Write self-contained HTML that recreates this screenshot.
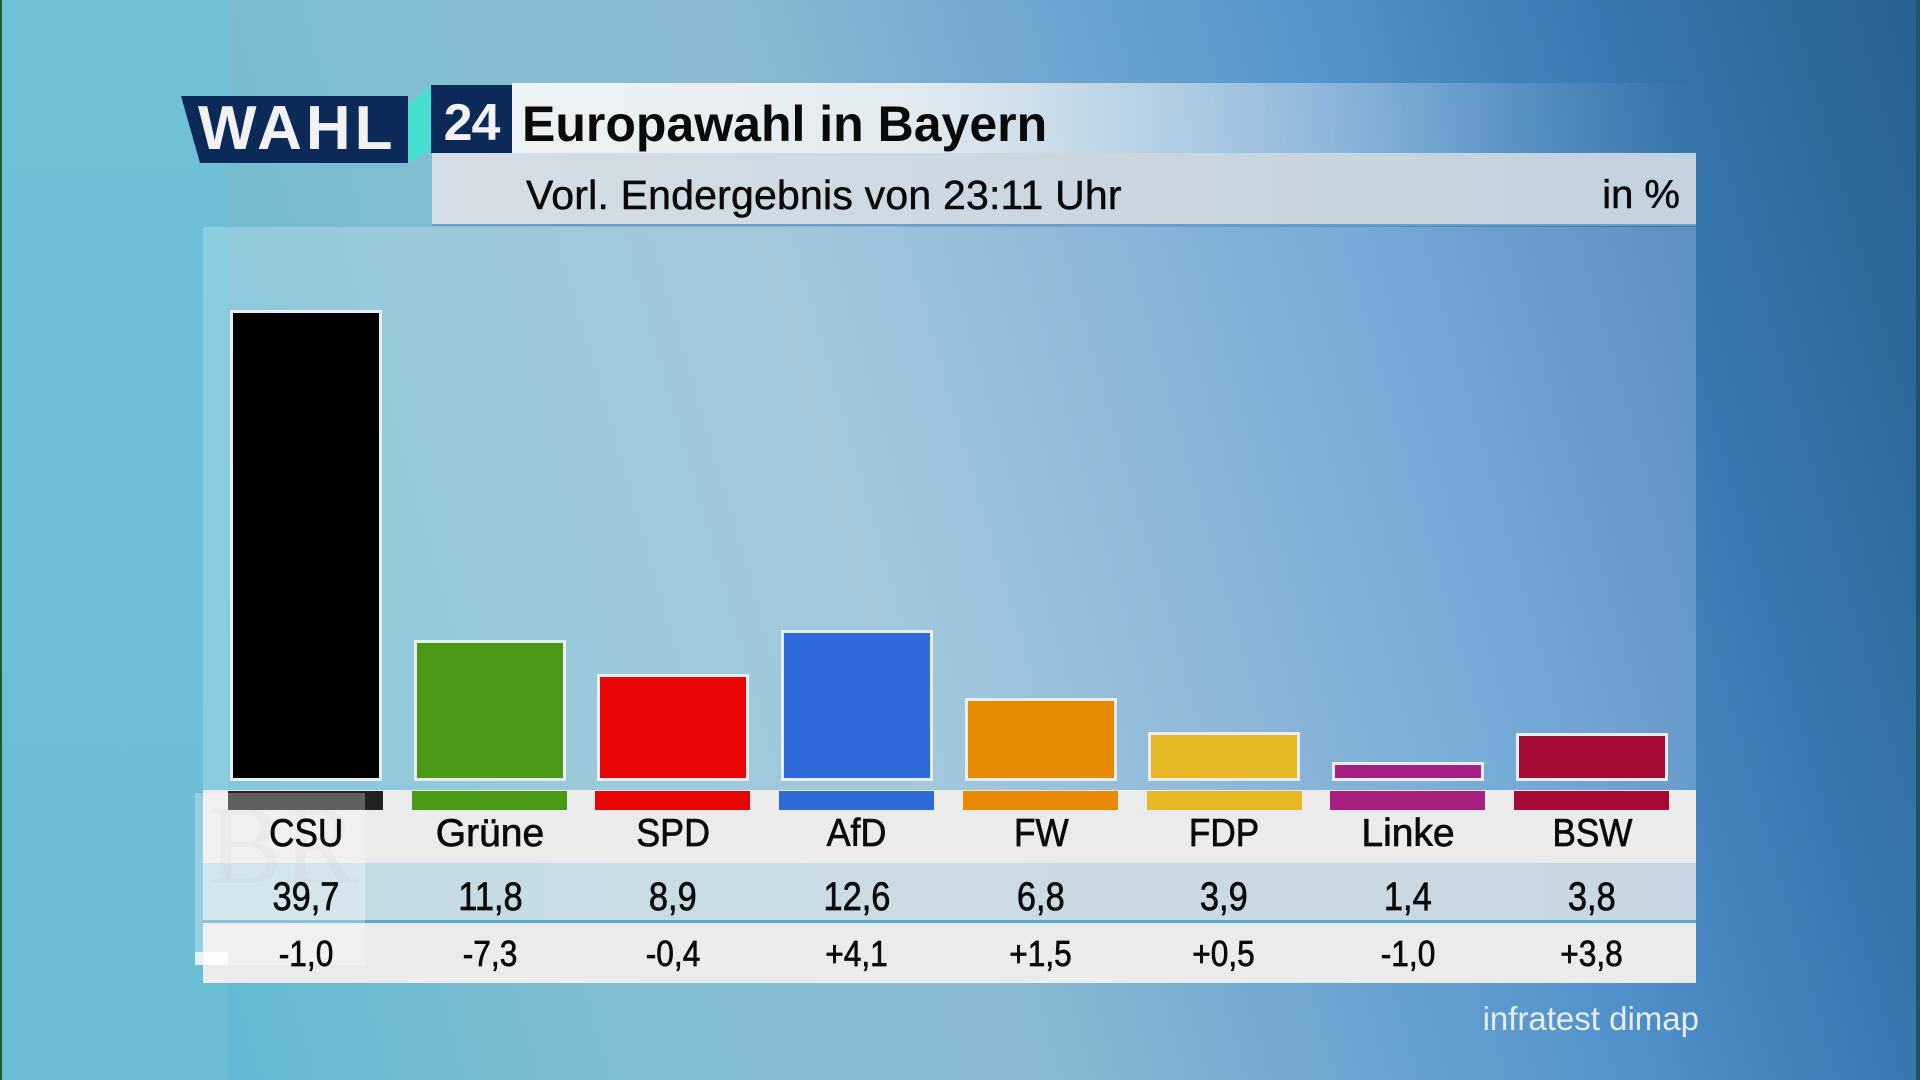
<!DOCTYPE html>
<html>
<head>
<meta charset="utf-8">
<style>
  html,body{margin:0;padding:0;}
  body{width:1920px;height:1080px;position:relative;overflow:hidden;font-family:"Liberation Sans",sans-serif;background:#6fc0d6;}
  .abs{position:absolute;}
  #bgmain{left:228px;top:0;width:1692px;height:1080px;
    background:linear-gradient(74deg,#62b9d2 0%,#80bdd1 20%,#8cbcd3 39%,#72a8d0 54%,#5494cc 69%,#3877b1 84%,#29608e 100%);}
  #leftstrip{left:0;top:0;width:228px;height:1080px;background:linear-gradient(to bottom,#70c0d6,#6cbed5);}
  #edgeL{left:0;top:0;width:2px;height:1080px;background:#1d5b2e;}
  #edgeR{left:1916px;top:0;width:4px;height:1080px;background:#1e5566;}
  #panel{left:203px;top:227px;width:1493px;height:563px;background:rgba(255,255,255,0.2);}
  #titleband{left:512px;top:83px;width:1184px;height:70px;
    background:linear-gradient(to right,rgba(240,242,243,0.98) 0%,rgba(232,238,241,0.95) 33%,rgba(215,228,238,0.55) 62%,rgba(210,225,238,0.15) 85%,rgba(210,225,238,0) 100%);}
  #subband{left:432px;top:153px;width:1264px;height:71px;background:linear-gradient(to right,#d5dee4,#c9d6df 60%,#c2d2de);border-bottom:2px solid #6a9cc8;}
  .t{position:absolute;white-space:nowrap;color:#0a0a0a;}
  .bar{position:absolute;box-sizing:border-box;border:3px solid #e6eef2;width:152px;}
  .strip{position:absolute;top:791px;height:19px;width:155px;}
  .cell{position:absolute;width:184px;text-align:center;white-space:nowrap;color:#0a0a0a;-webkit-text-stroke:0.7px #0a0a0a;}
  .cell span{display:inline-block;}
</style>
</head>
<body>
<div id="bgmain" class="abs"></div>
<div id="leftstrip" class="abs"></div>
<div id="edgeL" class="abs"></div>
<div id="edgeR" class="abs"></div>

<div id="panel" class="abs"></div>

<!-- Header -->
<div id="titleband" class="abs"></div>
<div id="subband" class="abs"></div>

<svg class="abs" style="left:0;top:0" width="1920" height="240">
  <polygon points="181,96 408,96 408,163 200,163" fill="#0c2a57"/>
  <polygon points="408,104 431,86 431,150 408,163" fill="#45e0d2"/>
  <rect x="431" y="85" width="81" height="68" fill="#0c2a57"/>
</svg>
<div class="t" style="left:198px;top:98px;font-size:62px;line-height:62px;font-weight:bold;color:#f2f2f2;letter-spacing:4px;">WAHL</div>
<div class="t" style="left:431px;top:97px;width:81px;text-align:center;font-size:52px;line-height:52px;font-weight:bold;color:#f2f2f2;letter-spacing:-1px;">24</div>
<div class="t" style="left:522px;top:99px;font-size:50px;line-height:50px;font-weight:bold;">Europawahl in Bayern</div>
<div class="t" style="left:526px;top:175px;font-size:41px;line-height:41px;letter-spacing:0.2px;-webkit-text-stroke:0.5px #0a0a0a;">Vorl. Endergebnis von 23:11 Uhr</div>
<div class="t" style="left:1480px;width:200px;text-align:right;top:175px;font-size:40px;line-height:40px;-webkit-text-stroke:0.5px #0a0a0a;">in %</div>

<!-- Bars -->
<div class="bar" style="left:230px;top:310px;height:471px;background:#000;"></div>
<div class="bar" style="left:414px;top:640px;height:141px;background:#4a9816;"></div>
<div class="bar" style="left:597px;top:674px;height:107px;background:#e80404;"></div>
<div class="bar" style="left:781px;top:630px;height:151px;background:#2f6bd8;"></div>
<div class="bar" style="left:965px;top:698px;height:83px;background:#e88a00;"></div>
<div class="bar" style="left:1148px;top:732px;height:49px;background:#e6b824;"></div>
<div class="bar" style="left:1332px;top:762px;height:19px;background:#a51f83;"></div>
<div class="bar" style="left:1516px;top:733px;height:48px;background:#a50a34;"></div>

<!-- Table -->
<div class="abs" style="left:203px;top:790px;width:1493px;height:73px;background:#ebebeb;"></div>
<div class="abs" style="left:203px;top:863px;width:1493px;height:57px;background:linear-gradient(to right,#c3dde6,#cbdbe3 50%,#c8d7e1);"></div>
<div class="abs" style="left:203px;top:920px;width:1493px;height:3px;background:#5aa8d2;"></div>
<div class="abs" style="left:203px;top:923px;width:1493px;height:60px;background:#ebebeb;"></div>

<div class="strip" style="left:228px;background:#222;"></div>
<div class="strip" style="left:412px;background:#4a9a18;"></div>
<div class="strip" style="left:595px;background:#e80404;"></div>
<div class="strip" style="left:779px;background:#2f6bd8;"></div>
<div class="strip" style="left:963px;background:#e88a00;"></div>
<div class="strip" style="left:1147px;background:#e6b824;"></div>
<div class="strip" style="left:1330px;background:#a8207f;"></div>
<div class="strip" style="left:1514px;background:#a50a34;"></div>

<!-- BR watermark (under text) -->
<div class="t" style="left:208px;top:790px;font-size:112px;line-height:112px;font-family:'Liberation Serif',serif;color:rgba(120,120,120,0.07);">BR</div>
<div class="abs" style="left:195px;top:793px;width:170px;height:172px;background:rgba(255,255,255,0.28);"></div>
<div class="abs" style="left:195px;top:952px;width:33px;height:13px;background:rgba(255,255,255,0.75);"></div>

<!-- names -->
<div class="cell" style="left:214px;top:814px;font-size:39px;line-height:39px;"><span style="transform:scaleX(0.9)">CSU</span></div>
<div class="cell" style="left:398px;top:814px;font-size:39px;line-height:39px;"><span>Grüne</span></div>
<div class="cell" style="left:581px;top:814px;font-size:39px;line-height:39px;"><span style="transform:scaleX(0.92)">SPD</span></div>
<div class="cell" style="left:765px;top:814px;font-size:39px;line-height:39px;"><span style="transform:scaleX(0.92)">AfD</span></div>
<div class="cell" style="left:949px;top:814px;font-size:39px;line-height:39px;"><span style="transform:scaleX(0.9)">FW</span></div>
<div class="cell" style="left:1132px;top:814px;font-size:39px;line-height:39px;"><span style="transform:scaleX(0.9)">FDP</span></div>
<div class="cell" style="left:1316px;top:814px;font-size:39px;line-height:39px;"><span>Linke</span></div>
<div class="cell" style="left:1500px;top:814px;font-size:39px;line-height:39px;"><span style="transform:scaleX(0.9)">BSW</span></div>

<!-- values -->
<div class="cell" style="left:214px;top:877px;font-size:40px;line-height:40px;"><span style="transform:scaleX(0.86)">39,7</span></div>
<div class="cell" style="left:398px;top:877px;font-size:40px;line-height:40px;"><span style="transform:scaleX(0.86)">11,8</span></div>
<div class="cell" style="left:581px;top:877px;font-size:40px;line-height:40px;"><span style="transform:scaleX(0.86)">8,9</span></div>
<div class="cell" style="left:765px;top:877px;font-size:40px;line-height:40px;"><span style="transform:scaleX(0.86)">12,6</span></div>
<div class="cell" style="left:949px;top:877px;font-size:40px;line-height:40px;"><span style="transform:scaleX(0.86)">6,8</span></div>
<div class="cell" style="left:1132px;top:877px;font-size:40px;line-height:40px;"><span style="transform:scaleX(0.86)">3,9</span></div>
<div class="cell" style="left:1316px;top:877px;font-size:40px;line-height:40px;"><span style="transform:scaleX(0.86)">1,4</span></div>
<div class="cell" style="left:1500px;top:877px;font-size:40px;line-height:40px;"><span style="transform:scaleX(0.86)">3,8</span></div>

<!-- changes -->
<div class="cell" style="left:214px;top:936px;font-size:36px;line-height:36px;"><span style="transform:scaleX(0.88)">-1,0</span></div>
<div class="cell" style="left:398px;top:936px;font-size:36px;line-height:36px;"><span style="transform:scaleX(0.88)">-7,3</span></div>
<div class="cell" style="left:581px;top:936px;font-size:36px;line-height:36px;"><span style="transform:scaleX(0.88)">-0,4</span></div>
<div class="cell" style="left:765px;top:936px;font-size:36px;line-height:36px;"><span style="transform:scaleX(0.88)">+4,1</span></div>
<div class="cell" style="left:949px;top:936px;font-size:36px;line-height:36px;"><span style="transform:scaleX(0.88)">+1,5</span></div>
<div class="cell" style="left:1132px;top:936px;font-size:36px;line-height:36px;"><span style="transform:scaleX(0.88)">+0,5</span></div>
<div class="cell" style="left:1316px;top:936px;font-size:36px;line-height:36px;"><span style="transform:scaleX(0.88)">-1,0</span></div>
<div class="cell" style="left:1500px;top:936px;font-size:36px;line-height:36px;"><span style="transform:scaleX(0.88)">+3,8</span></div>

<!-- source -->
<div class="t" style="left:1399px;width:300px;text-align:right;top:1002px;font-size:33px;line-height:33px;color:#e6eef4;">infratest dimap</div>
</body>
</html>
